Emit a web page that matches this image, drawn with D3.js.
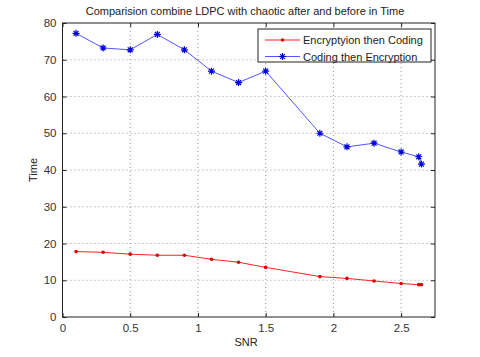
<!DOCTYPE html>
<html><head><meta charset="utf-8">
<script src="https://cdn.jsdelivr.net/npm/d3@7"></script>
<style>body{margin:0;background:#fff}svg{display:block}text{font-family:"Liberation Sans",Arial,sans-serif}</style>
</head><body><svg id="c" width="480" height="357"></svg>
<script>
const snr = [0.1,0.3,0.5,0.7,0.9,1.1,1.3,1.5,1.9,2.1,2.3,2.5,2.63,2.65];
const encThenCode = [17.8,17.6,17.1,16.8,16.8,15.7,14.9,13.5,11.0,10.5,9.8,9.1,8.8,8.8];
const codeThenEnc = [77.2,73.2,72.7,76.9,72.7,66.9,63.8,66.9,50.0,46.3,47.3,44.9,43.6,41.6];
const xTicks = [0,0.5,1,1.5,2,2.5];
const yTicks = [0,10,20,30,40,50,60,70,80];
const seriesNames = ["Encryptyion then Coding","Coding then Encryption"];

const svg = d3.select("#c");
const L=62.5,R=435,T=23,B=317;
const x = d3.scaleLinear().domain([0,2.75]).range([L,R]);
const y = d3.scaleLinear().domain([0,80]).range([B,T]);

const g = svg.append("g");
g.selectAll(".gx").data(xTicks.slice(1)).join("line").attr("x1",d=>x(d)).attr("x2",d=>x(d)).attr("y1",T).attr("y2",B)
 .attr("stroke","#999").attr("stroke-dasharray","1,3");
g.selectAll(".gy").data(yTicks.slice(1,-1)).join("line").attr("y1",d=>y(d)).attr("y2",d=>y(d)).attr("x1",L).attr("x2",R)
 .attr("stroke","#999").attr("stroke-dasharray","1,3");

const ax = svg.append("g").attr("transform",`translate(0,${B})`).call(d3.axisBottom(x).tickValues(xTicks).tickSize(-4).tickPadding(7).tickFormat(d3.format("")));
const ay = svg.append("g").attr("transform",`translate(${L},0)`).call(d3.axisLeft(y).tickValues(yTicks).tickSize(-4).tickPadding(6));
const axt = svg.append("g").attr("transform",`translate(0,${T})`).call(d3.axisTop(x).tickValues(xTicks).tickSize(-4).tickFormat(""));
const ayr = svg.append("g").attr("transform",`translate(${R},0)`).call(d3.axisRight(y).tickValues(yTicks).tickSize(-4).tickFormat(""));
[ax,ay,axt,ayr].forEach(a=>{a.select(".domain").remove();a.selectAll("line").attr("stroke","#222");a.selectAll("text").attr("fill","#333").style("font-size","11.5px");});
svg.append("rect").attr("x",L).attr("y",T).attr("width",R-L).attr("height",B-T).attr("fill","none").attr("stroke","#222").attr("stroke-width",1);

const line = d3.line().x((d,i)=>x(snr[i])).y(d=>y(d));
const starPath = s=>`M${-s},0H${s}M0,${-s}V${s}M${-s*0.7},${-s*0.7}L${s*0.7},${s*0.7}M${-s*0.7},${s*0.7}L${s*0.7},${-s*0.7}`;
svg.append("path").datum(encThenCode).attr("d",line).attr("fill","none").attr("stroke","#f22").attr("stroke-width",1);
svg.append("g").selectAll("circle").data(encThenCode).join("circle").attr("cx",(d,i)=>x(snr[i])).attr("cy",d=>y(d)).attr("r",1.8).attr("fill","#d00");
svg.append("path").datum(codeThenEnc).attr("d",line).attr("fill","none").attr("stroke","#55f").attr("stroke-width",1);
svg.append("g").selectAll("path").data(codeThenEnc).join("path").attr("transform",(d,i)=>`translate(${x(snr[i])},${y(d)})`).attr("d",starPath(3.5)).attr("stroke","#00d").attr("stroke-width",1.2).attr("fill","none");

const lg = svg.append("g");
lg.append("rect").attr("x",258).attr("y",29).attr("width",173).attr("height",33).attr("fill","#fff").attr("stroke","#222");
const cols=["#f22","#55f"];
seriesNames.forEach((n,i)=>{
  const yy = 40+i*16.5;
  lg.append("line").attr("x1",265).attr("x2",300).attr("y1",yy).attr("y2",yy).attr("stroke",cols[i]);
  if(i==0) lg.append("circle").attr("cx",282.5).attr("cy",yy).attr("r",1.8).attr("fill","#d00");
  else lg.append("path").attr("transform",`translate(282.5,${yy})`).attr("d",starPath(3.5)).attr("stroke","#00d").attr("stroke-width",1.2);
  lg.append("text").attr("x",303).attr("y",yy+4).text(n).attr("fill","#222").style("font-size","11px");
});

svg.append("text").attr("x",245).attr("y",15).attr("text-anchor","middle").text("Comparision combine LDPC with chaotic after and before in Time").attr("fill","#222").style("font-size","11px");
svg.append("text").attr("x",246).attr("y",346).attr("text-anchor","middle").text("SNR").attr("fill","#222").style("font-size","11px");
svg.append("text").attr("transform","translate(37,170) rotate(-90)").attr("text-anchor","middle").text("Time").attr("fill","#222").style("font-size","11px");
</script></body></html>
